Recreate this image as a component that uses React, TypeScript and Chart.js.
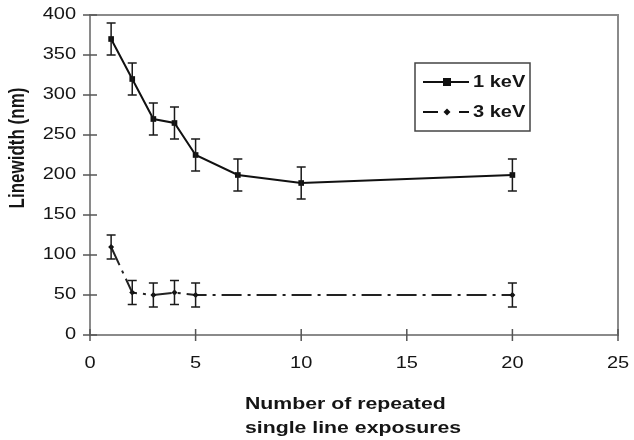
import React, { useEffect, useRef } from "react";
import { Chart, registerables } from "chart.js";

Chart.register(...registerables);

// Linewidth vs. number of repeated single line exposures
const exposures1keV = [1, 2, 3, 4, 5, 7, 10, 20];
const linewidth1keV = [370, 320, 270, 265, 225, 200, 190, 200];
const error1keV = [20, 20, 20, 20, 20, 20, 20, 20];

const exposures3keV = [1, 2, 3, 4, 5, 20];
const linewidth3keV = [110, 53, 50, 53, 50, 50];
const error3keV = [15, 15, 15, 15, 15, 15];

const seriesLabels = ["1 keV", "3 keV"];
const xTitle = ["Number of repeated", "single line exposures"];
const yTitle = "Linewidth (nm)";

const FONT = "'Liberation Sans', Arial, sans-serif";
const AXIS_COLOR = "#8a8a8a";
const DASH_DOT = [20, 6, 3, 6];
// text in this figure is set slightly wide
const TEXT_STRETCH = 1.25;

const errors = [error1keV, error3keV];

function wideText(
  ctx: CanvasRenderingContext2D,
  text: string,
  x: number,
  y: number,
  font: string,
  align: CanvasTextAlign,
  rotate = false
) {
  ctx.save();
  ctx.font = font;
  ctx.fillStyle = "#151515";
  ctx.textAlign = align;
  ctx.textBaseline = "middle";
  ctx.translate(x, y);
  ctx.scale(TEXT_STRETCH, 1);
  if (rotate) ctx.rotate(-Math.PI / 2);
  ctx.fillText(text, 0, 0);
  ctx.restore();
}

// vertical error bars with caps, drawn through the chart scales
const errorBarPlugin = {
  id: "errorBars",
  afterDatasetsDraw(chart: any) {
    const { ctx, scales } = chart;
    const xs = scales.x;
    const ys = scales.y;
    chart.data.datasets.forEach((ds: any, i: number) => {
      const errs = errors[i];
      ctx.save();
      ctx.strokeStyle = "#1a1a1a";
      ctx.lineWidth = 1.5;
      ds.data.forEach((p: any, j: number) => {
        const px = xs.getPixelForValue(p.x);
        const top = ys.getPixelForValue(p.y + errs[j]);
        const bot = ys.getPixelForValue(p.y - errs[j]);
        const cap = 4.5;
        ctx.beginPath();
        ctx.moveTo(px, top);
        ctx.lineTo(px, bot);
        ctx.moveTo(px - cap, top);
        ctx.lineTo(px + cap, top);
        ctx.moveTo(px - cap, bot);
        ctx.lineTo(px + cap, bot);
        ctx.stroke();
      });
      ctx.restore();
    });
  },
};

// frame on top/right, crossing tick marks, tick labels and axis titles
const axesPlugin = {
  id: "axesDecor",
  beforeDatasetsDraw(chart: any) {
    const { ctx, chartArea, scales } = chart;
    const { left, right, top, bottom } = chartArea;
    ctx.save();
    ctx.strokeStyle = AXIS_COLOR;
    ctx.lineWidth = 2;
    ctx.beginPath();
    ctx.moveTo(left, top);
    ctx.lineTo(right, top);
    ctx.lineTo(right, bottom);
    ctx.stroke();
    ctx.strokeStyle = "#555";
    ctx.lineWidth = 1.5;
    ctx.beginPath();
    scales.y.ticks.forEach((t: any) => {
      const y = scales.y.getPixelForValue(t.value);
      ctx.moveTo(left - 7, y);
      ctx.lineTo(left + 7, y);
    });
    scales.x.ticks.forEach((t: any) => {
      const x = scales.x.getPixelForValue(t.value);
      ctx.moveTo(x, bottom - 6);
      ctx.lineTo(x, bottom + 6);
    });
    ctx.stroke();
    ctx.restore();

    const tickFont = `16px ${FONT}`;
    scales.y.ticks.forEach((t: any) => {
      const y = scales.y.getPixelForValue(t.value);
      wideText(ctx, String(t.value), left - 14, y, tickFont, "right");
    });
    scales.x.ticks.forEach((t: any) => {
      const x = scales.x.getPixelForValue(t.value);
      wideText(ctx, String(t.value), x, bottom + 29, tickFont, "center");
    });

    const titleFont = `bold 17px ${FONT}`;
    wideText(ctx, xTitle[0], 245, 404, titleFont, "left");
    wideText(ctx, xTitle[1], 245, 428, titleFont, "left");
    wideText(ctx, yTitle, 18, 148, titleFont, "center", true);
  },
};

// boxed legend inside the plot, upper right
const legendPlugin = {
  id: "boxLegend",
  afterDraw(chart: any) {
    const { ctx } = chart;
    const bx = 415, by = 63, bw = 115, bh = 68;
    ctx.save();
    ctx.fillStyle = "#fff";
    ctx.fillRect(bx, by, bw, bh);
    ctx.strokeStyle = "#444";
    ctx.lineWidth = 1.5;
    ctx.strokeRect(bx, by, bw, bh);

    const rows = [by + 19, by + 49];
    const x0 = bx + 8, x1 = bx + 54, mx = bx + 32;
    // 1 keV sample
    ctx.strokeStyle = "#111";
    ctx.lineWidth = 2;
    ctx.beginPath();
    ctx.moveTo(x0, rows[0]);
    ctx.lineTo(x1, rows[0]);
    ctx.stroke();
    ctx.fillStyle = "#111";
    ctx.fillRect(mx - 4, rows[0] - 4, 8, 8);
    // 3 keV sample
    ctx.beginPath();
    ctx.moveTo(x0, rows[1]);
    ctx.lineTo(x0 + 15, rows[1]);
    ctx.moveTo(x1 - 10, rows[1]);
    ctx.lineTo(x1, rows[1]);
    ctx.stroke();
    ctx.beginPath();
    ctx.moveTo(mx, rows[1] - 3.5);
    ctx.lineTo(mx + 3.5, rows[1]);
    ctx.lineTo(mx, rows[1] + 3.5);
    ctx.lineTo(mx - 3.5, rows[1]);
    ctx.closePath();
    ctx.fill();
    ctx.restore();

    const legendFont = `bold 16px ${FONT}`;
    wideText(ctx, seriesLabels[0], x1 + 4, rows[0] + 1, legendFont, "left");
    wideText(ctx, seriesLabels[1], x1 + 4, rows[1] + 1, legendFont, "left");
  },
};

export default function App() {
  const canvasRef = useRef<HTMLCanvasElement | null>(null);

  useEffect(() => {
    const canvas = canvasRef.current;
    if (!canvas) return;
    const chart = new Chart(canvas, {
      type: "scatter",
      data: {
        datasets: [
          {
            label: seriesLabels[0],
            data: exposures1keV.map((x, i) => ({ x, y: linewidth1keV[i] })),
            showLine: true,
            borderColor: "#111",
            backgroundColor: "#111",
            borderWidth: 2,
            pointStyle: "rect",
            pointRadius: 4,
            pointBorderWidth: 0,
          },
          {
            label: seriesLabels[1],
            data: exposures3keV.map((x, i) => ({ x, y: linewidth3keV[i] })),
            showLine: true,
            borderColor: "#222",
            backgroundColor: "#111",
            borderWidth: 2,
            borderDash: DASH_DOT,
            pointStyle: "rectRot",
            pointRadius: 3,
            pointBorderWidth: 0,
          },
        ],
      },
      options: {
        responsive: false,
        animation: false,
        layout: { padding: { top: 15, right: 16, left: 0, bottom: 0 } },
        plugins: {
          legend: { display: false },
          tooltip: { enabled: false },
        },
        scales: {
          x: {
            type: "linear",
            min: 0,
            max: 25,
            ticks: { stepSize: 5, display: false },
            grid: { display: false, drawTicks: false },
            border: { display: true, color: AXIS_COLOR, width: 2 },
            afterFit(scale: any) {
              scale.height = 105;
              scale.paddingLeft = 0;
              scale.paddingRight = 0;
            },
          },
          y: {
            type: "linear",
            min: 0,
            max: 400,
            ticks: { stepSize: 50, display: false },
            grid: { display: false, drawTicks: false },
            border: { display: true, color: AXIS_COLOR, width: 2 },
            afterFit(scale: any) {
              scale.width = 90;
              scale.paddingTop = 0;
              scale.paddingBottom = 0;
            },
          },
        },
      },
      plugins: [axesPlugin, errorBarPlugin, legendPlugin],
    });
    return () => chart.destroy();
  }, []);

  return (
    <div style={{ position: "absolute", left: 0, top: 0, width: 634, height: 440, background: "#fff" }}>
      <canvas ref={canvasRef} width={634} height={440} />
    </div>
  );
}
